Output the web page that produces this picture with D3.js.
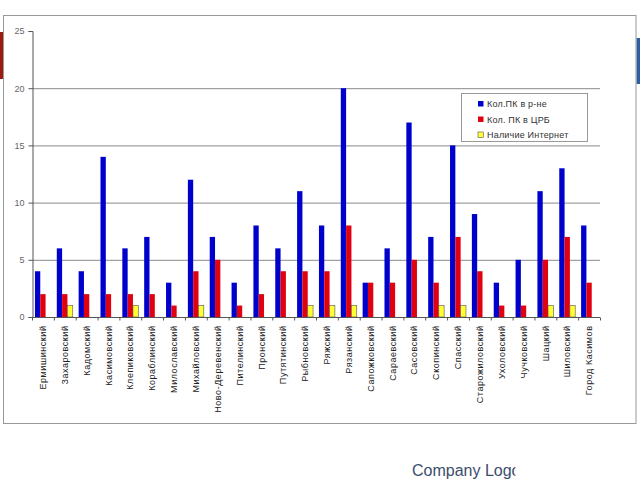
<!DOCTYPE html>
<html lang="ru">
<head>
  <meta charset="UTF-8">
  <title>ПК по районам</title>
  <script src="https://d3js.org/d3.v7.min.js"></script>
  <style>
    html, body {
      margin: 0;
      background: #fff;
      overflow: hidden;
      font-family: "Liberation Sans", Arial, sans-serif;
    }
  </style>
</head>
<body>
  <div id="chart"></div>
  <script>
    const districts = [
      'Ермишинский', 'Захаровский', 'Кадомский', 'Касимовский', 'Клепиковский',
      'Кораблинский', 'Милославский', 'Михайловский', 'Ново-Деревенский', 'Пителинский',
      'Пронский', 'Путятинский', 'Рыбновский', 'Ряжский', 'Рязанский',
      'Сапожковский', 'Сараевский', 'Сасовский', 'Скопинский', 'Спасский',
      'Старожиловский', 'Ухоловский', 'Чучковский', 'Шацкий', 'Шиловский', 'Город Касимов'
    ]
    const pcDistrict = [4, 6, 4, 14, 6, 7, 3, 12, 7, 3, 8, 6, 11, 8, 20, 3, 6, 17, 7, 15, 9, 3, 5, 11, 13, 8]
    const pcHospital = [2, 2, 2, 2, 2, 2, 1, 4, 5, 1, 2, 4, 4, 4, 8, 3, 3, 5, 3, 7, 4, 1, 1, 5, 7, 3]
    const internet   = [0, 1, 0, 0, 1, 0, 0, 1, 0, 0, 0, 0, 1, 1, 1, 0, 0, 0, 1, 1, 0, 0, 0, 1, 1, 0]
    const seriesNames = ['Кол.ПК в р-не', 'Кол. ПК в ЦРБ', 'Наличие Интернет']
    const yTicks = [0, 5, 10, 15, 20, 25]

    const colors = ['#0000cc', '#e00010', '#ffff33']

    const width = 640
    const height = 480
    const plot = { left: 32, right: 600, top: 31, bottom: 317 }

    const svg = d3.select('#chart').append('svg')
      .attr('width', width)
      .attr('height', height)

    // side tabs of the slide
    svg.append('rect').attr('x', 0).attr('y', 32).attr('width', 3).attr('height', 47).attr('fill', '#9b1b0e')
    svg.append('rect').attr('x', 636.5).attr('y', 38).attr('width', 3.5).attr('height', 46).attr('fill', '#2e5fa0')

    // chart frame
    svg.append('rect')
      .attr('x', 3.5).attr('y', 15.5)
      .attr('width', 632.5).attr('height', 408)
      .attr('fill', '#fff')
      .attr('stroke', '#999')

    const x = d3.scaleBand()
      .domain(districts)
      .range([plot.left, plot.right])
      .paddingInner(0.27)
      .paddingOuter(0.135)

    const xSub = d3.scaleBand()
      .domain([0, 1, 2])
      .range([0, x.bandwidth()])

    const y = d3.scaleLinear()
      .domain([0, 25])
      .range([plot.bottom, plot.top])

    // gridlines
    svg.append('g')
      .selectAll('line')
      .data(yTicks.filter(t => t > 0 && t < 25))
      .join('line')
      .attr('x1', plot.left).attr('x2', plot.right)
      .attr('y1', d => y(d) + 0.5).attr('y2', d => y(d) + 0.5)
      .attr('stroke', '#8a8a8a')
      .attr('stroke-width', 1)

    // bars
    const rows = districts.map((name, i) => ({
      name,
      values: [pcDistrict[i], pcHospital[i], internet[i]]
    }))

    const group = svg.append('g')
      .selectAll('g')
      .data(rows)
      .join('g')
      .attr('transform', d => `translate(${x(d.name)},0)`)

    group.selectAll('rect')
      .data(d => d.values.map((v, k) => ({ v, k })).filter(e => e.v > 0))
      .join('rect')
      .attr('x', d => xSub(d.k))
      .attr('y', d => y(d.v))
      .attr('width', xSub.bandwidth())
      .attr('height', d => y(0) - y(d.v))
      .attr('fill', d => colors[d.k])
      .attr('stroke', d => d.k === 2 ? '#555' : 'none')
      .attr('stroke-width', 0.6)

    // y axis
    const yAxis = d3.axisLeft(y).tickValues(yTicks).tickSize(4).tickPadding(4)
    const yg = svg.append('g')
      .attr('transform', `translate(${plot.left + 0.5},0)`)
      .call(yAxis)
    yg.select('.domain').attr('stroke', '#555')
    yg.selectAll('.tick line').attr('stroke', '#555')
    yg.selectAll('.tick text')
      .attr('fill', '#666')
      .style('font-size', '9px')
      .style('font-family', '"Liberation Sans", Arial, sans-serif')

    // x axis
    const step = x.step()
    const xg = svg.append('g')
      .attr('transform', `translate(0,${plot.bottom + 0.5})`)
    xg.append('line')
      .attr('x1', plot.left).attr('x2', plot.right)
      .attr('stroke', '#555')
    xg.selectAll('.sep')
      .data(d3.range(districts.length + 1))
      .join('line')
      .attr('class', 'sep')
      .attr('x1', i => plot.left + i * step + 0.5)
      .attr('x2', i => plot.left + i * step + 0.5)
      .attr('y1', 0).attr('y2', 3)
      .attr('stroke', '#555')

    xg.selectAll('.lbl')
      .data(districts)
      .join('text')
      .attr('class', 'lbl')
      .attr('transform', d => `translate(${x(d) + x.bandwidth() / 2},8) rotate(-90)`)
      .attr('dy', '0.35em')
      .attr('text-anchor', 'end')
      .attr('fill', '#222')
      .style('font-size', '9px')
      .style('letter-spacing', '0.55px')
      .text(d => d)

    // legend
    const legend = svg.append('g').attr('transform', 'translate(461,93)')
    legend.append('rect')
      .attr('x', 0.5).attr('y', 0.5)
      .attr('width', 126).attr('height', 48)
      .attr('fill', '#fff')
      .attr('stroke', '#999')
    const item = legend.selectAll('.item')
      .data(seriesNames)
      .join('g')
      .attr('class', 'item')
      .attr('transform', (d, i) => `translate(17,${8 + i * 15.5})`)
    item.append('rect')
      .attr('width', 5.5).attr('height', 5.5)
      .attr('fill', (d, i) => colors[i])
      .attr('stroke', (d, i) => i === 2 ? '#555' : 'none')
      .attr('stroke-width', 0.6)
    item.append('text')
      .attr('x', 9).attr('y', 3)
      .attr('dy', '0.35em')
      .attr('fill', '#333')
      .style('font-size', '9px')
      .style('letter-spacing', '0.2px')
      .text(d => d)

    // footer, cut off at the right like on the slide
    svg.append('clipPath').attr('id', 'logoClip')
      .append('rect').attr('x', 400).attr('y', 450).attr('width', 115.5).attr('height', 30)
    svg.append('text')
      .attr('clip-path', 'url(#logoClip)')
      .attr('x', 412).attr('y', 476)
      .attr('fill', '#3b4d6b')
      .style('font-size', '16px')
      .style('font-family', '"Liberation Sans", Arial, sans-serif')
      .text('Company Logo')
  </script>
</body>
</html>
